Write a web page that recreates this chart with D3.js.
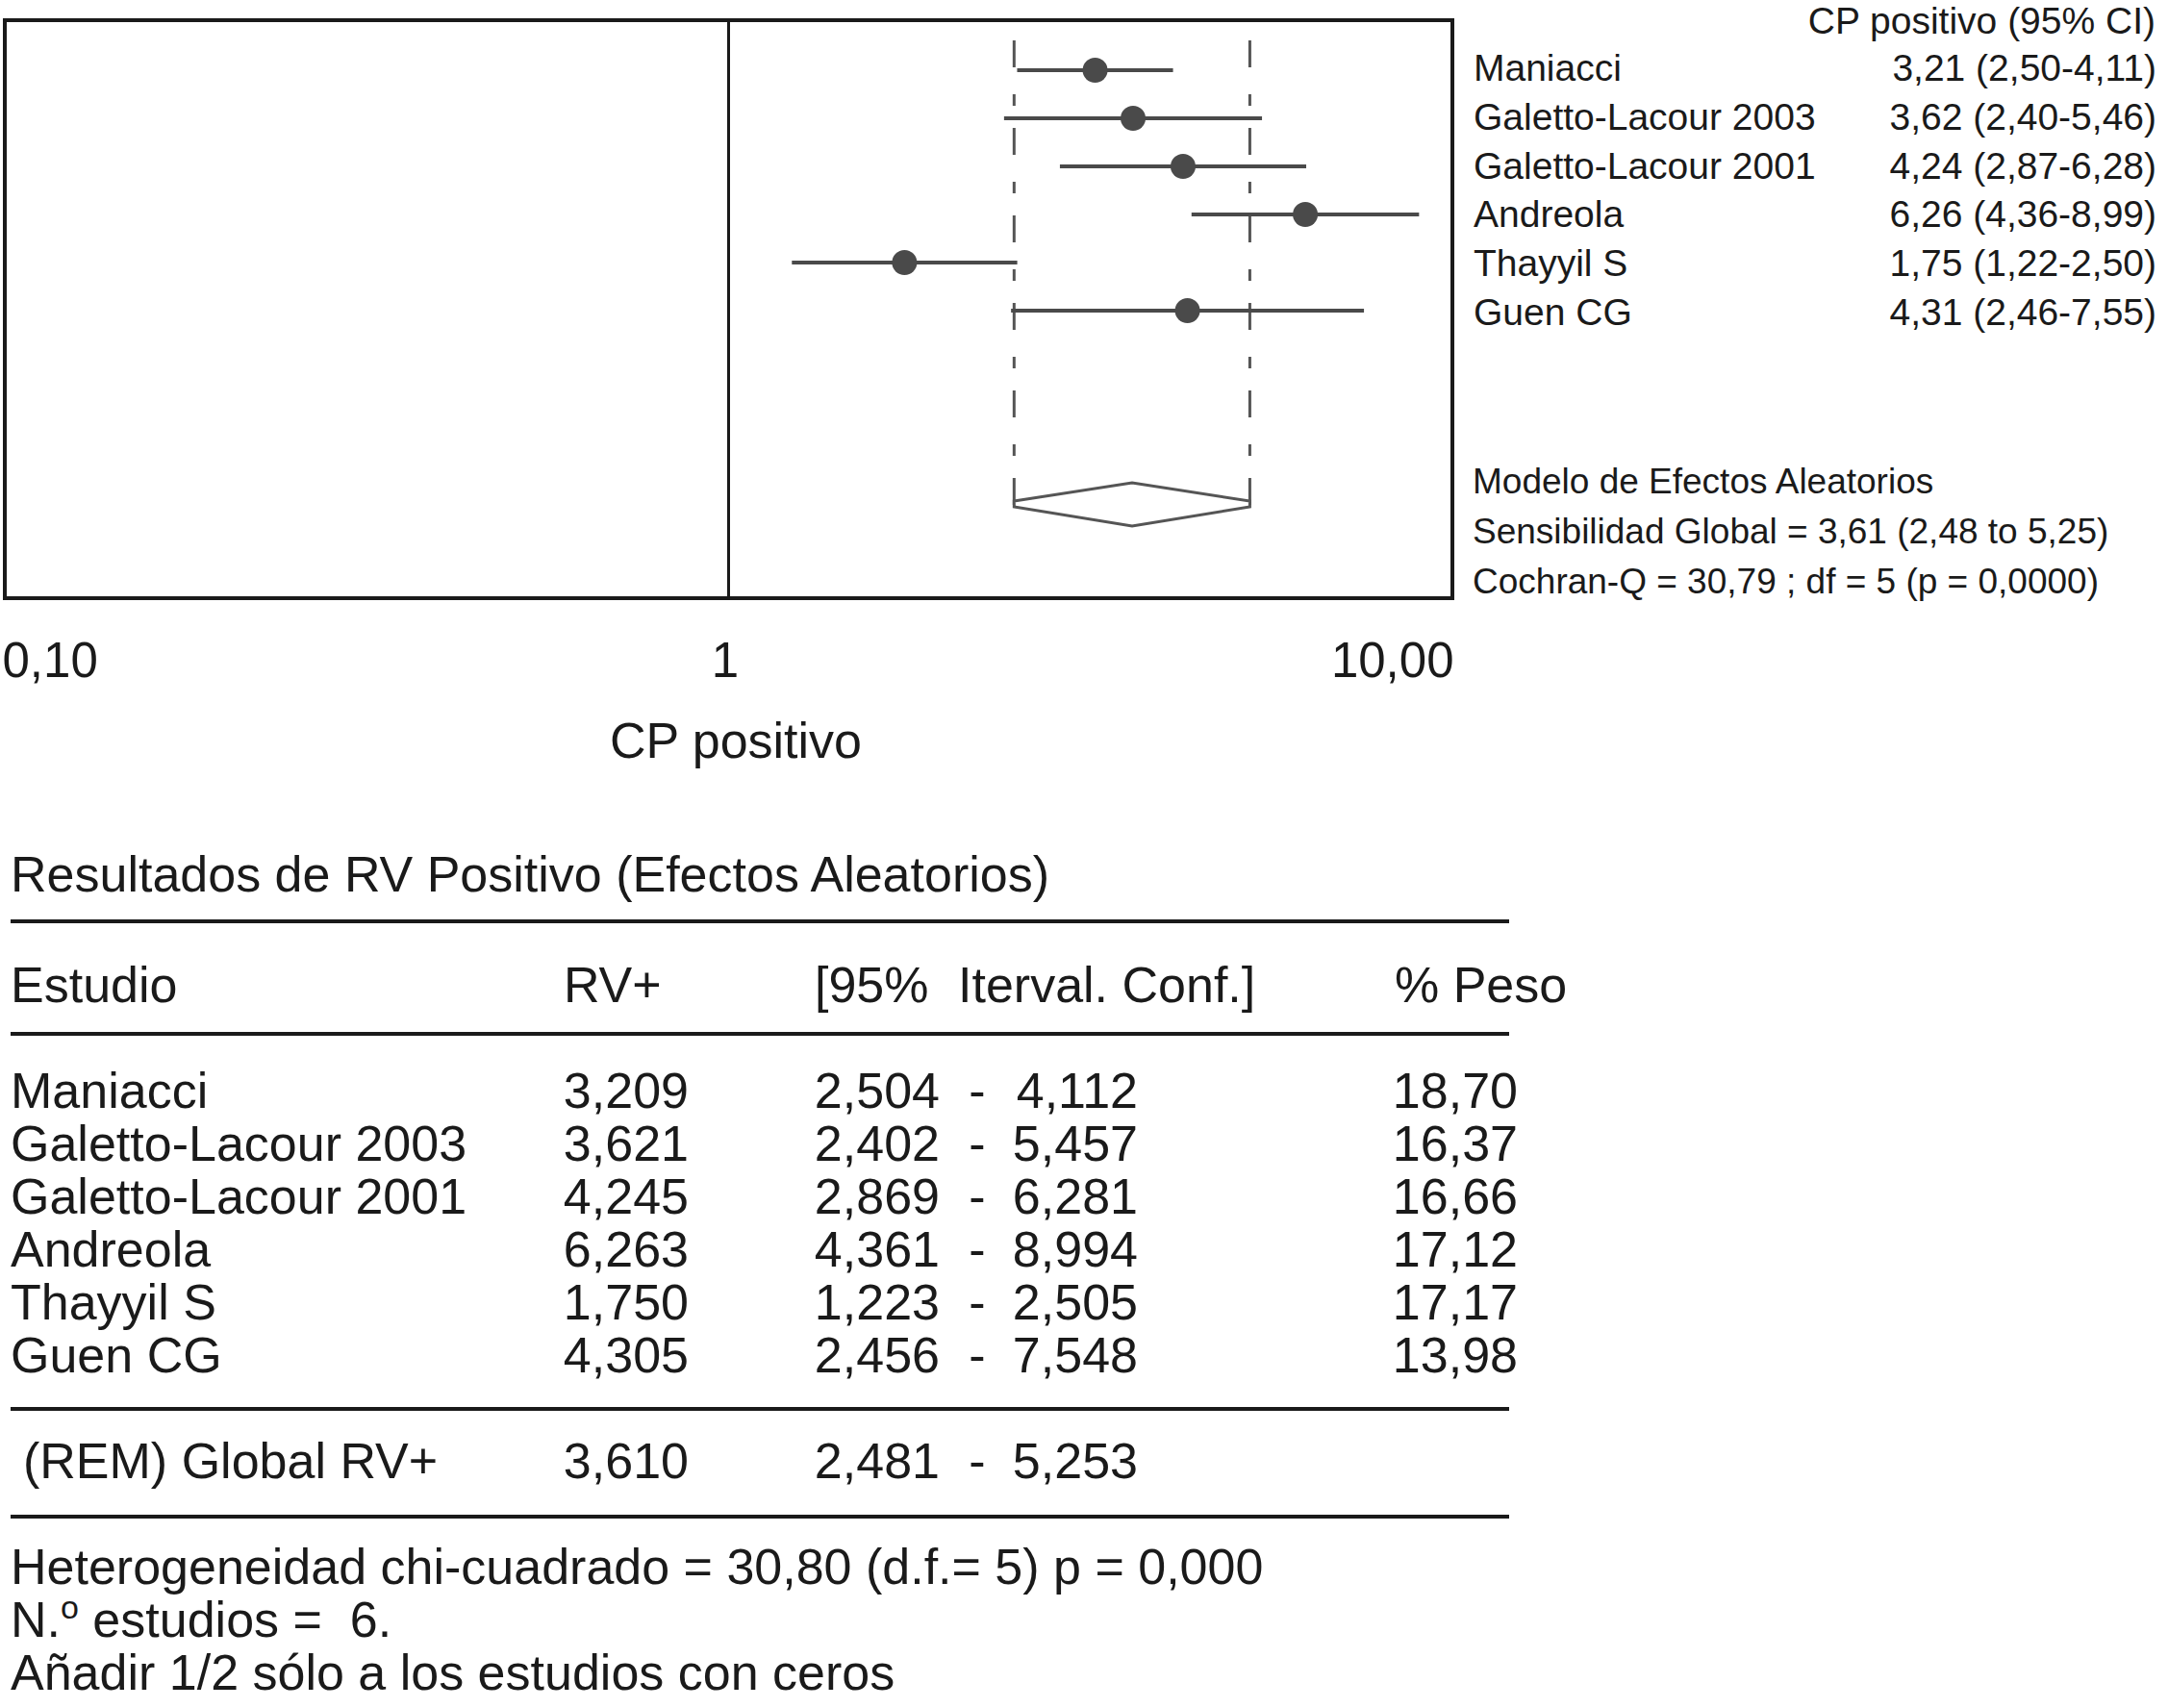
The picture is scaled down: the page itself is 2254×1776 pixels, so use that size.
<!DOCTYPE html>
<html>
<head>
<meta charset="utf-8">
<script src="https://cdn.jsdelivr.net/npm/d3@7"></script>
<style>
body { margin:0; background:white; }
text { font-family:"Liberation Sans", Arial, sans-serif; fill:#1a1a1a; white-space:pre; }
</style>
</head>
<body>
<svg></svg>
<script>
// studies and values (from the table)
var studies = ["Maniacci","Galetto-Lacour 2003","Galetto-Lacour 2001","Andreola","Thayyil S","Guen CG"]
var rv = [3.209, 3.621, 4.245, 6.263, 1.750, 4.305]
var lower = [2.504, 2.402, 2.869, 4.361, 1.223, 2.456]
var upper = [4.112, 5.457, 6.281, 8.994, 2.505, 7.548]
var peso = ["18,70","16,37","16,66","17,12","17,17","13,98"]
var ciLabels = ["3,21 (2,50-4,11)","3,62 (2,40-5,46)","4,24 (2,87-6,28)","6,26 (4,36-8,99)","1,75 (1,22-2,50)","4,31 (2,46-7,55)"]

var pooled = [3.610, 2.481, 5.253]
var pooledCI = [2.48, 5.25]

var tickVals = [0.1, 1, 10]
var tickLabels = ["0,10","1","10,00"]

var modelText = ["Modelo de Efectos Aleatorios",
                 "Sensibilidad Global = 3,61 (2,48 to 5,25)",
                 "Cochran-Q = 30,79 ; df = 5 (p = 0,0000)"]

var footer = ["Heterogeneidad chi-cuadrado = 30,80 (d.f.= 5) p = 0,000",
              "N.|o| estudios =  6.",
              "Añadir 1/2 sólo a los estudios con ceros"]

var screen = {width:2254,height:1776}
var box = {left:5,right:1510,top:21,bottom:622}

var fmt3 = function(v){ return v.toFixed(3).replace(".", ",") }

var svg = d3.select("svg")
    .attr("width",screen.width)
    .attr("height",screen.height)

var xScale = d3.scaleLog()
    .domain([0.1,10])
    .range([box.left,box.right])

var yScale = d3.scaleLinear()
    .domain([0,5])
    .range([73,323])

var plot = svg.append("g").attr("id","forest")

// frame
plot.append("rect")
    .attr("x",box.left)
    .attr("y",box.top)
    .attr("width",box.right-box.left)
    .attr("height",box.bottom-box.top)
    .attr("fill","none")
    .attr("stroke","#1a1a1a")
    .attr("stroke-width",4)

// null line at 1
plot.append("line")
    .attr("x1",xScale(1)).attr("x2",xScale(1))
    .attr("y1",box.top).attr("y2",box.bottom)
    .attr("stroke","#1a1a1a")
    .attr("stroke-width",3)

// pooled CI dash-dot lines
plot.selectAll(".pooledline")
    .data(pooledCI)
    .enter()
    .append("line")
    .classed("pooledline",true)
    .attr("x1",function(d){return xScale(d)})
    .attr("x2",function(d){return xScale(d)})
    .attr("y1",42)
    .attr("y2",525)
    .attr("stroke","#555")
    .attr("stroke-width",3)
    .attr("stroke-dasharray","28,28,12,23")

// CI lines
plot.selectAll(".ci")
    .data(studies)
    .enter()
    .append("line")
    .classed("ci",true)
    .attr("x1",function(d,i){return xScale(lower[i])})
    .attr("x2",function(d,i){return xScale(upper[i])})
    .attr("y1",function(d,i){return yScale(i)})
    .attr("y2",function(d,i){return yScale(i)})
    .attr("stroke","#4a4a4a")
    .attr("stroke-width",4)

plot.selectAll("circle")
    .data(rv)
    .enter()
    .append("circle")
    .attr("cx",function(d){return xScale(d)})
    .attr("cy",function(d,i){return yScale(i)})
    .attr("r",13)
    .attr("fill","#4a4a4a")

// pooled diamond
var dy = 524
var diamond = [
    [xScale(pooledCI[0]), dy-3],
    [xScale(pooled[0]), dy-22],
    [xScale(pooledCI[1]), dy-3],
    [xScale(pooledCI[1]), dy+3],
    [xScale(pooled[0]), dy+23],
    [xScale(pooledCI[0]), dy+3]
]
plot.append("polygon")
    .attr("points",diamond.map(function(p){return p.join(",")}).join(" "))
    .attr("fill","white")
    .attr("stroke","#555")
    .attr("stroke-width",3)

// axis
var xAxis = d3.axisBottom(xScale)
    .tickValues(tickVals)
    .tickFormat(function(d,i){return tickLabels[i]})
    .tickSize(0)

var ax = svg.append("g")
    .attr("transform","translate(0,"+box.bottom+")")
    .call(xAxis)
ax.select(".domain").remove()
ax.selectAll("text")
    .attr("y",82)
    .attr("dy",0)
    .attr("fill","#1a1a1a")
    .style("font-size","51px")
    .style("font-family","Liberation Sans, Arial, sans-serif")
    .attr("text-anchor",function(d,i){ return i==0 ? "start" : (i==2 ? "end" : "middle") })
    .attr("dx",function(d,i){ return i==0 ? -3 : (i==2 ? 1 : -4) })

svg.append("text")
    .attr("x",765)
    .attr("y",788)
    .attr("text-anchor","middle")
    .style("font-size","52px")
    .text("CP positivo")

// right panel
var textY = d3.scaleLinear().domain([0,5]).range([84,338])
svg.append("text")
    .attr("x",2241).attr("y",35)
    .attr("text-anchor","end")
    .style("font-size","39px")
    .text("CP positivo (95% CI)")

svg.selectAll(".rname")
    .data(studies)
    .enter()
    .append("text")
    .classed("rname",true)
    .attr("x",1532)
    .attr("y",function(d,i){return textY(i)})
    .style("font-size","39px")
    .text(function(d){return d})

svg.selectAll(".rci")
    .data(ciLabels)
    .enter()
    .append("text")
    .classed("rci",true)
    .attr("x",2242)
    .attr("y",function(d,i){return textY(i)})
    .attr("text-anchor","end")
    .style("font-size","39px")
    .text(function(d){return d})

svg.selectAll(".model")
    .data(modelText)
    .enter()
    .append("text")
    .classed("model",true)
    .attr("x",1531)
    .attr("y",function(d,i){return 513+i*52})
    .style("font-size","37px")
    .text(function(d){return d})

// table
var fs = "52px"
var rowY = d3.scaleLinear().domain([0,5]).range([1152,1427])

svg.append("text").attr("x",11).attr("y",927).style("font-size",fs)
    .text("Resultados de RV Positivo (Efectos Aleatorios)")

var rules = [958,1075,1465,1577]
svg.selectAll(".rule")
    .data(rules)
    .enter()
    .append("line")
    .classed("rule",true)
    .attr("x1",11).attr("x2",1569)
    .attr("y1",function(d){return d}).attr("y2",function(d){return d})
    .attr("stroke","#1a1a1a")
    .attr("stroke-width",4)

var headers = [["Estudio",11],["RV+",586],["[95%",847],["Iterval. Conf.]",996],["% Peso",1450]]
svg.selectAll(".head")
    .data(headers)
    .enter()
    .append("text")
    .classed("head",true)
    .attr("x",function(d){return d[1]})
    .attr("y",1042)
    .style("font-size",fs)
    .text(function(d){return d[0]})

var rows = svg.selectAll(".row")
    .data(studies)
    .enter()
    .append("g")
    .classed("row",true)
    .attr("transform",function(d,i){return "translate(0,"+rowY(i)+")"})

rows.append("text").attr("x",11).style("font-size",fs).text(function(d){return d})
rows.append("text").attr("x",716).attr("text-anchor","end").style("font-size",fs)
    .text(function(d,i){return fmt3(rv[i])})
rows.append("text").attr("x",977).attr("text-anchor","end").style("font-size",fs)
    .text(function(d,i){return fmt3(lower[i])})
rows.append("text").attr("x",1016).attr("text-anchor","middle").style("font-size",fs).text("-")
rows.append("text").attr("x",1183).attr("text-anchor","end").style("font-size",fs)
    .text(function(d,i){return fmt3(upper[i])})
rows.append("text").attr("x",1578).attr("text-anchor","end").style("font-size",fs)
    .text(function(d,i){return peso[i]})

var rem = svg.append("g").attr("transform","translate(0,1537)")
rem.append("text").attr("x",24).style("font-size",fs).text("(REM) Global RV+")
rem.append("text").attr("x",716).attr("text-anchor","end").style("font-size",fs).text(fmt3(pooled[0]))
rem.append("text").attr("x",977).attr("text-anchor","end").style("font-size",fs).text(fmt3(pooled[1]))
rem.append("text").attr("x",1016).attr("text-anchor","middle").style("font-size",fs).text("-")
rem.append("text").attr("x",1183).attr("text-anchor","end").style("font-size",fs).text(fmt3(pooled[2]))

// footer, |o| marks the raised o
footer.forEach(function(line,i){
    var t = svg.append("text")
        .attr("x",11)
        .attr("y",1647+i*55)
        .style("font-size",fs)
    var parts = line.split("|")
    parts.forEach(function(p,j){
        var ts = t.append("tspan").text(p)
        if(j==1){
            ts.attr("baseline-shift","55%").style("font-size","34px")
        }
    })
})
</script>
</body>
</html>
